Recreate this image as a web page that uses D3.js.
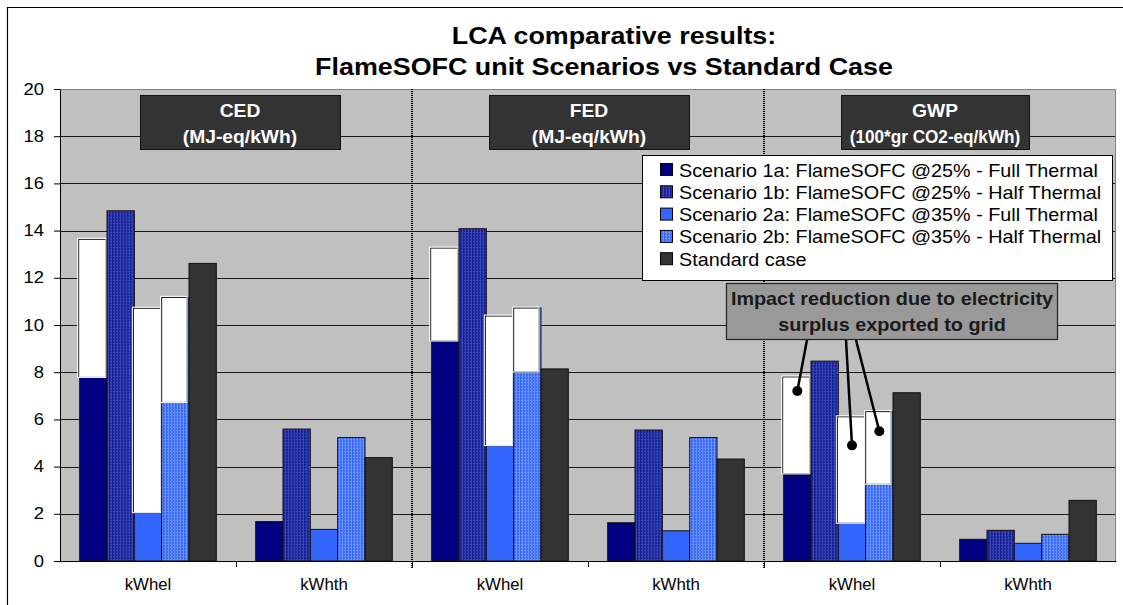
<!DOCTYPE html>
<html><head><meta charset="utf-8">
<script src="https://cdn.jsdelivr.net/npm/d3@7"></script>
<style>
body{margin:0;background:#fff;}
text{font-family:Arial,"Liberation Sans",sans-serif;}
</style></head>
<body><svg id="c" width="1123" height="605"></svg>
<script>
// ---- data ----
const indicators = ["CED","FED","GWP"];
const indicatorUnits = ["(MJ-eq/kWh)","(MJ-eq/kWh)","(100*gr CO2-eq/kWh)"];
const units = ["kWhel","kWhth"];
const categories = ["CED|kWhel","CED|kWhth","FED|kWhel","FED|kWhth","GWP|kWhel","GWP|kWhth"];
const seriesNames = [
  "Scenario 1a: FlameSOFC @25% - Full Thermal",
  "Scenario 1b: FlameSOFC @25% - Half Thermal",
  "Scenario 2a: FlameSOFC @35% - Full Thermal",
  "Scenario 2b: FlameSOFC @35% - Half Thermal",
  "Standard case"];
// net values (after export credit)
const s1a = [7.78, 1.67, 9.32, 1.62, 3.69, 0.92];
const s1b = [14.84, 5.59, 14.08, 5.55, 8.47, 1.30];
const s2a = [2.05, 1.34, 4.89, 1.28, 1.60, 0.75];
const s2b = [6.72, 5.23, 8.01, 5.23, 3.25, 1.13];
const sStd = [12.61, 4.38, 8.14, 4.32, 7.13, 2.57];
// gross values before impact reduction (white part), null = none
const g1a = [13.63, null, 13.26, null, 7.80, null];
const g2a = [10.71, null, 10.38, null, 6.11, null];
const g2b = [11.17, null, 10.72, null, 6.33, null];
const yTicks = [0,2,4,6,8,10,12,14,16,18,20];
const annotationLines = ["Impact reduction due to electricity","surplus exported to grid"];
// annotation targets: [series index, category, value]
const annotTargets = [[0,"GWP|kWhel",7.2],[2,"GWP|kWhel",4.9],[3,"GWP|kWhel",5.5]];

const seriesVals = [s1a,s1b,s2a,s2b,sStd];
const grossVals = [g1a,null,g2a,g2b,null];

const svg = d3.select("#c");
const defs = svg.append("defs");
function pat(id, base, line){
  const p = defs.append("pattern").attr("id",id).attr("patternUnits","userSpaceOnUse").attr("width",3).attr("height",3);
  p.append("rect").attr("width",3).attr("height",3).attr("fill",base);
  p.append("rect").attr("x",0).attr("y",0).attr("width",1).attr("height",3).attr("fill",line);
  p.append("rect").attr("x",2).attr("y",1).attr("width",1).attr("height",1).attr("fill",line);
}
pat("p1b","#1a2396","#3a46b8");
pat("p2b","#3a6cf6","#6a92ff");
const fills = ["#000080","url(#p1b)","#3366ff","url(#p2b)","#333333"];

// stretched text helper (reference text is horizontally wider)
function stext(parent, x, yy, str, size, sx, anchor, weight, fill){
  const g = parent.append("g").attr("transform",`translate(${x},${yy}) scale(${sx},1)`);
  return g.append("text").attr("x",0).attr("y",0).attr("text-anchor",anchor||"start")
    .attr("font-size",size).attr("font-weight",weight||"normal").attr("fill",fill||"#000").text(str);
}

// outer border
svg.append("path").attr("d","M7.5,605 V7.5 H1123").attr("fill","none").attr("stroke","#000").attr("stroke-width",1.2);

const L=60,R=1116,T=89,B=561;
const x0 = d3.scaleBand().domain(categories).range([L,R]).padding(0);
const x1 = d3.scaleBand().domain(d3.range(5)).range([0,x0.bandwidth()]).paddingInner(0).paddingOuter(0.72);
const y = d3.scaleLinear().domain([0,20]).range([B,T]);

// plot bg
svg.append("rect").attr("x",L).attr("y",T).attr("width",R-L).attr("height",B-T).attr("fill","#c0c0c0");
svg.append("path").attr("d",`M${L},${T+0.5}H${R-0.5}V${B}`).attr("fill","none").attr("stroke","#808080");
// gridlines
svg.append("g").selectAll("line").data(yTicks.filter(d=>d>0)).join("line")
  .attr("x1",L).attr("x2",R-1).attr("y1",d=>Math.round(y(d))+0.5).attr("y2",d=>Math.round(y(d))+0.5)
  .attr("stroke",(d)=>d===20?"#808080":"#1a1a1a").attr("stroke-width",1);

// y axis
const ya = svg.append("g").attr("transform",`translate(${L},0)`)
  .call(d3.axisLeft(y).tickValues(yTicks).tickSize(6).tickPadding(9).tickSizeOuter(0).tickFormat(()=>""));
ya.select(".domain").attr("stroke","#000");
ya.selectAll("line").attr("stroke","#000");
yTicks.forEach(t=>stext(svg, 44, y(t)+5.5, String(t), 16, 1.15, "end"));

// x axis
const xa = svg.append("g").attr("transform",`translate(0,${B})`)
  .call(d3.axisBottom(x0).tickSize(0).tickFormat(()=>""));
xa.select(".domain").attr("stroke","#000");
categories.forEach(c=>stext(svg, x0(c)+x0.bandwidth()/2, 590, c.split("|")[1], 16, 1.05, "middle"));
// category boundary tick marks
svg.append("g").selectAll("line").data(categories.slice(1)).join("line")
  .attr("x1",d=>x0(d)+0.5).attr("x2",d=>x0(d)+0.5).attr("y1",B).attr("y2",B+6).attr("stroke","#000");

// bars
const gb = svg.append("g");
seriesVals.forEach((vals,si)=>{
  categories.forEach((c,ci)=>{
    const bx = x0(c)+x1(si), bw = x1.bandwidth();
    const gv = grossVals[si] ? grossVals[si][ci] : null;
    const topV = (si===3 && gv!=null) ? gv : vals[ci];
    gb.append("rect").attr("x",bx).attr("y",y(topV)).attr("width",bw).attr("height",y(0)-y(topV))
      .attr("fill",fills[si]).attr("stroke","#111").attr("stroke-width",1);
    if(gv!=null){
      const wx = si===3 ? bx : bx-1, ww = si===3 ? bw-2 : bw;
      gb.append("rect").attr("x",wx).attr("y",y(gv)).attr("width",ww).attr("height",y(vals[ci])-y(gv))
        .attr("fill","#fff").attr("stroke","#111").attr("stroke-width",1);
      gb.append("rect").attr("x",wx-1).attr("y",y(gv)-1).attr("width",ww+1).attr("height",y(vals[ci])-y(gv)+1)
        .attr("fill","none").attr("stroke","#fff").attr("stroke-width",1);
    }
  });
});

// dotted separators
[2,4].forEach(i=>{
  const xx = x0(categories[i]);
  svg.append("line").attr("x1",xx).attr("x2",xx).attr("y1",T).attr("y2",B+7)
    .attr("stroke","#000").attr("stroke-width",2).attr("stroke-dasharray","1,1");
});

// indicator header boxes
const hb = [[140,340],[489,689],[841,1029]];
indicators.forEach((ind,i)=>{
  const g = svg.append("g");
  g.append("rect").attr("x",hb[i][0]+0.5).attr("y",95.5).attr("width",hb[i][1]-hb[i][0]).attr("height",54)
    .attr("fill","#333").attr("stroke","#111");
  const cx=(hb[i][0]+hb[i][1])/2;
  stext(g, cx, 117, ind, 17.5, 1.1, "middle", "bold", "#fff");
  stext(g, cx, 143, indicatorUnits[i], 17.5, i===2 ? 0.98 : 1.1, "middle", "bold", "#fff");
});

// legend
const lg = svg.append("g");
lg.append("rect").attr("x",642.5).attr("y",155.5).attr("width",470).attr("height",125).attr("fill","#fff").attr("stroke","#000");
seriesNames.forEach((n,i)=>{
  const yy = 170 + i*22.3;
  lg.append("rect").attr("x",660.5).attr("y",yy-6.5).attr("width",12).attr("height",12).attr("fill",fills[i]).attr("stroke","#000");
  stext(lg, 679, yy+6.5, n, 18, 1.1, "start");
});

// title
stext(svg, 614, 44, "LCA comparative results:", 24, 1.12, "middle", "bold");
stext(svg, 604, 75, "FlameSOFC unit Scenarios vs Standard Case", 24, 1.12, "middle", "bold");

// annotation
const ag = svg.append("g");
const starts = [807,846,856];
annotTargets.forEach((t,i)=>{
  const tx = x0(t[1])+x1(t[0])+x1.bandwidth()/2, ty = y(t[2]);
  ag.append("line").attr("x1",starts[i]).attr("y1",340).attr("x2",tx).attr("y2",ty).attr("stroke","#000").attr("stroke-width",2.5);
  ag.append("circle").attr("cx",tx).attr("cy",ty).attr("r",5).attr("fill","#000");
});
ag.append("rect").attr("x",726.5).attr("y",283.5).attr("width",331).attr("height",56).attr("fill","#999").attr("stroke","#222").attr("stroke-width",1.2);
annotationLines.forEach((s,i)=>{
  stext(ag, 892, 304.5+i*26, s, 18, 1.1, "middle", "bold", "#1a1a1a");
});
</script></body></html>
